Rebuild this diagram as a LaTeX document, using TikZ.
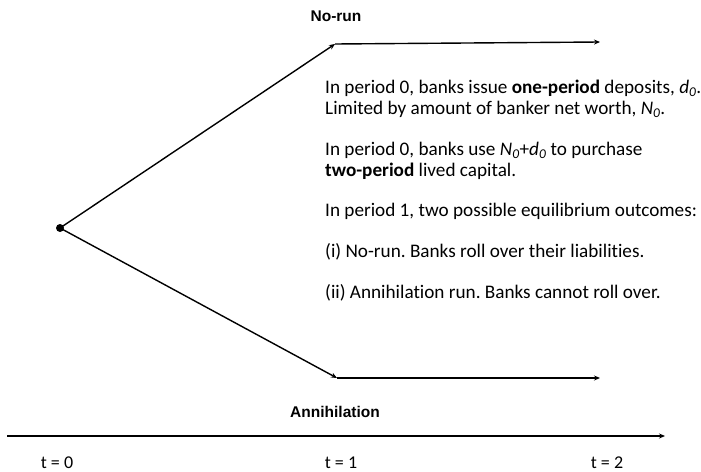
\documentclass[tikz,border=0pt]{standalone}
\usepackage{fontspec}
\setmainfont{Carlito}[Ligatures={NoCommon}]
\newfontfamily\headfont{Liberation Sans}
\usetikzlibrary{arrows.meta}
\frenchspacing
\begin{document}
\begin{tikzpicture}[x=1pt,y=-1pt,
  branch/.style={line width=1.4pt,-{Stealth[length=6pt,width=5pt]}},
  head/.style={font=\headfont\bfseries\fontsize{15.5}{18}\selectfont,anchor=base,inner sep=0pt},
  body/.style={font=\fontsize{19.2}{22}\selectfont,anchor=base west,inner sep=0pt},
  tlab/.style={font=\fontsize{18}{21}\selectfont,anchor=base,inner sep=0pt}]
\useasboundingbox (0,0) rectangle (701,471);
\node[circle,fill=black,inner sep=0pt,minimum size=8pt] (root) at (60,228) {};
\coordinate (up1) at (335,44);
\coordinate (up2) at (600,42);
\coordinate (lo1) at (337,378);
\coordinate (lo2) at (600,378);
\draw[branch] (root.center) -- (up1);
\draw[branch] (up1) -- (up2);
\draw[branch] (root.center) -- (lo1);
\draw[branch] (lo1) -- (lo2);
\node[head] (norun) at (336,21) {No-run};
\node[head] (annih) at (335,417) {Annihilation};
\node[body] (p1a) at (325,93) {In period 0, banks issue \textbf{one-period} deposits, \textit{d\textsubscript{0}}.};
\node[body] (p1b) at (325,114) {Limited by amount of banker net worth, \textit{N\textsubscript{0}}.};
\node[body] (p2a) at (325,155) {In period 0, banks use \textit{N\textsubscript{0}}+\textit{d\textsubscript{0}} to purchase};
\node[body] (p2b) at (325,176) {\textbf{two-period} lived capital.};
\node[body] (p3) at (325,216) {In period 1, two possible equilibrium outcomes:};
\node[body] (p4) at (325,257) {(i) No-run. Banks roll over their liabilities.};
\node[body] (p5) at (325,298) {(ii) Annihilation run. Banks cannot roll over.};
\coordinate (ta) at (7,436);
\coordinate (tb) at (665,436);
\draw[branch] (ta) -- (tb);
\node[tlab] (t0) at (57,468) {t = 0};
\node[tlab] (t1) at (341,468) {t = 1};
\node[tlab] (t2) at (607,468) {t = 2};
\end{tikzpicture}
\end{document}
